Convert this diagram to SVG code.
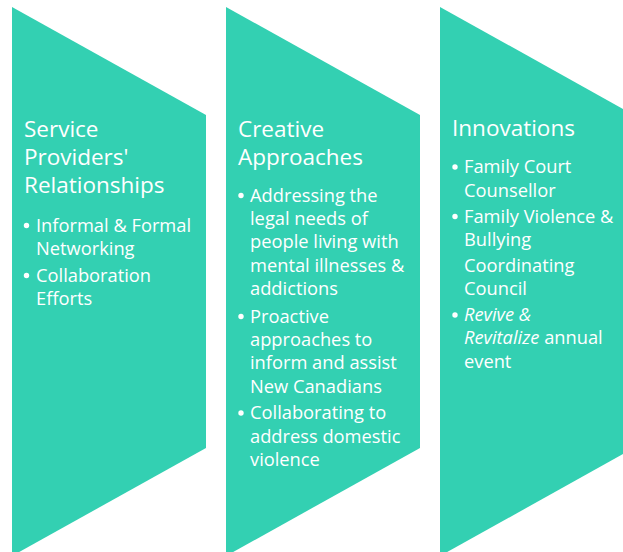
<svg xmlns="http://www.w3.org/2000/svg" width="623" height="552" viewBox="0 0 623 552">
<style>
.shape{fill:#33D0B2}
text{font-family:"Open Sans","Noto Sans","Liberation Sans",sans-serif;fill:#ffffff}
.t{font-size:22.5px}
.b{font-size:18.3px}
.dot{fill:#ffffff}
</style>
<rect width="623" height="552" fill="#ffffff"/>
<g id="node-service">
<polygon class="shape" points="12,7 206,115 206,448 12,556"/>
<text class="t" x="24" y="137">Service</text>
<text class="t" x="24" y="165">Providers'</text>
<text class="t" x="24" y="193">Relationships</text>
<circle class="dot" cx="26.5" cy="225.5" r="2.7"/>
<text class="b" x="36" y="231.7">Informal &amp; Formal</text>
<text class="b" x="36" y="254.5">Networking</text>
<circle class="dot" cx="26.5" cy="275.5" r="2.7"/>
<text class="b" x="36" y="281.7">Collaboration</text>
<text class="b" x="36" y="304.5">Efforts</text>
</g>
<g id="node-creative">
<polygon class="shape" points="226,7 420,115 420,448 226,556"/>
<text class="t" x="238" y="137">Creative</text>
<text class="t" x="238" y="165">Approaches</text>
<circle class="dot" cx="241" cy="195.5" r="2.7"/>
<text class="b" x="250" y="201.7">Addressing the</text>
<text class="b" x="250" y="225">legal needs of</text>
<text class="b" x="250" y="248.3">people living with</text>
<text class="b" x="250" y="271.7">mental illnesses &amp;</text>
<text class="b" x="250" y="295">addictions</text>
<circle class="dot" cx="241" cy="316.5" r="2.7"/>
<text class="b" x="250" y="322.7">Proactive</text>
<text class="b" x="250" y="346">approaches to</text>
<text class="b" x="250" y="369.3">inform and assist</text>
<text class="b" x="250" y="392.7">New Canadians</text>
<circle class="dot" cx="241" cy="413" r="2.7"/>
<text class="b" x="250" y="419.3">Collaborating to</text>
<text class="b" x="250" y="442.7">address domestic</text>
<text class="b" x="250" y="466">violence</text>
</g>
<g id="node-innovations">
<polygon class="shape" points="440,7 634,115 634,448 440,556"/>
<text class="t" x="452" y="136">Innovations</text>
<circle class="dot" cx="455" cy="167" r="2.7"/>
<text class="b" x="464" y="173.3">Family Court</text>
<text class="b" x="464" y="196.5">Counsellor</text>
<circle class="dot" cx="455" cy="216.5" r="2.7"/>
<text class="b" x="464" y="222.7">Family Violence &amp;</text>
<text class="b" x="464" y="246">Bullying</text>
<text class="b" x="464" y="271.5">Coordinating</text>
<text class="b" x="464" y="294.5">Council</text>
<circle class="dot" cx="455" cy="315" r="2.7"/>
<text class="b" x="464" y="321"><tspan font-style="italic">Revive &amp;</tspan></text>
<text class="b" x="464" y="344.3"><tspan font-style="italic">Revitalize</tspan> annual</text>
<text class="b" x="464" y="367.5">event</text>
</g>
<g id="connectors"></g>
</svg>
